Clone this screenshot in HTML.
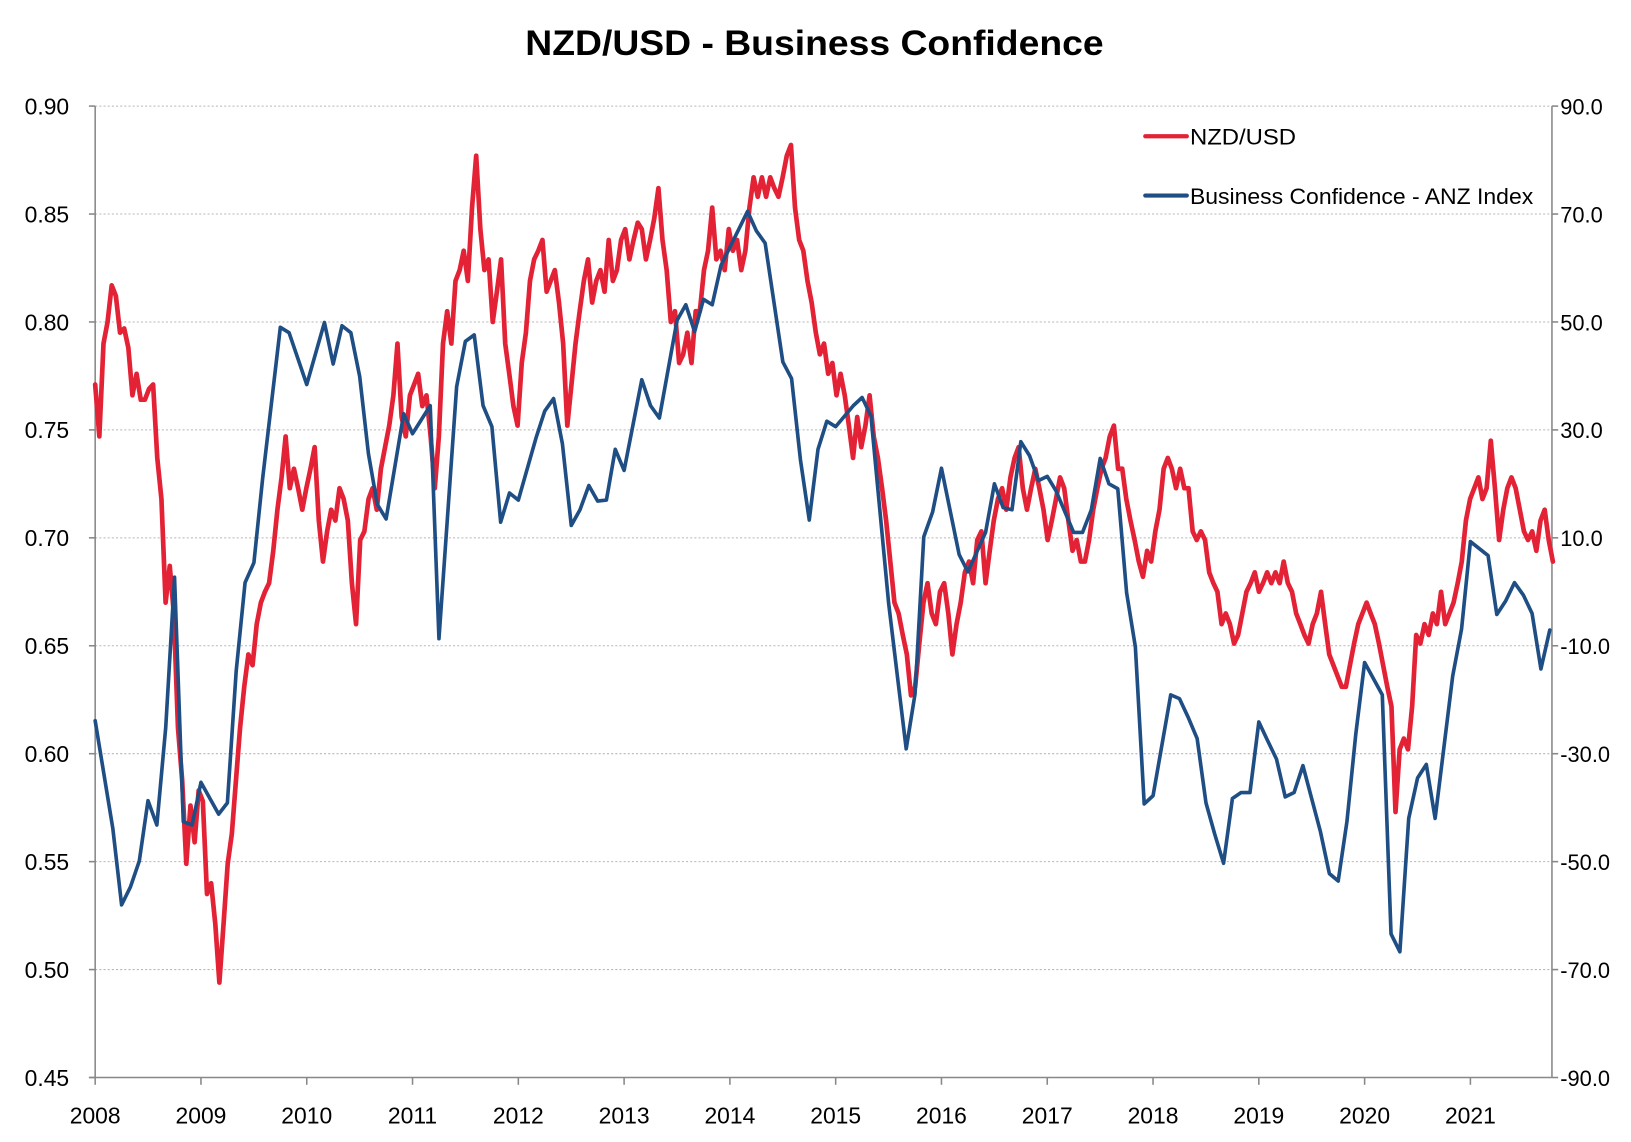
<!DOCTYPE html>
<html><head><meta charset="utf-8"><style>
html,body{margin:0;padding:0;background:#fff}
svg{display:block}
text{font-family:"Liberation Sans",Arial,sans-serif;fill:#000}
</style></head><body>
<svg id="chart" width="1631" height="1142" viewBox="0 0 1568 1098" preserveAspectRatio="none" xmlns="http://www.w3.org/2000/svg">
<text x="783" y="53" text-anchor="middle" font-size="34" font-weight="bold" textLength="556" lengthAdjust="spacingAndGlyphs">NZD/USD - Business Confidence</text>
<g id="grid"></g>
<g id="axes"></g>
<g id="series"></g>
<g>
<line x1="1101" y1="131" x2="1141" y2="131" stroke="#e32236" stroke-width="4" stroke-linecap="round"/>
<text x="1144" y="139" font-size="21" textLength="102" lengthAdjust="spacingAndGlyphs">NZD/USD</text>
<line x1="1101" y1="188" x2="1141" y2="188" stroke="#1f4e84" stroke-width="4" stroke-linecap="round"/>
<text x="1144" y="196" font-size="21" textLength="330" lengthAdjust="spacingAndGlyphs">Business Confidence - ANZ Index</text>
</g>
</svg>
<script>
const xTickLabels=["2008","2009","2010","2011","2012","2013","2014","2015","2016","2017","2018","2019","2020","2021"];
const leftTicks=[0.45,0.50,0.55,0.60,0.65,0.70,0.75,0.80,0.85,0.90];
const rightTicks=[-90,-70,-50,-30,-10,10,30,50,70,90];
const nzdStart=2008.0, nzdEnd=2021.78;
const nzdValues=[.771,.747,.790,.800,.817,.812,.795,.797,.788,.766,.776,.764,.764,.769,.771,.737,.718,.670,.687,.665,.612,.588,.549,.576,.559,.583,.578,.535,.540,.521,.494,.521,
.549,.563,.588,.612,.631,.646,.641,.660,.670,.675,.679,.694,.713,.728,.747,.723,.732,.723,.713,.723,.732,.742,.708,.689,.703,.713,.708,.723,.718,.708,.679,.660,.699,.703,.718,.723,.713,.732,.742,.752,.766,.790,.756,.747,.766,.771,.776,.761,.766,.747,.723,.747,.790,.805,.790,.819,.824,.833,.819,.853,.877,.843,.824,.829,.800,.814,.829,.790,.776,.761,.752,.781,.795,.819,.829,.833,.838,.814,.819,.824,.809,.790,.752,.771,.790,.805,.819,.829,.809,.819,.824,.814,.838,.819,.824,.838,.843,.829,.838,.846,.843,.829,.838,.848,.862,.838,.824,.800,.805,.781,.785,.795,.781,.805,.805,.824,.833,.853,.829,.833,.824,.843,.833,.838,.824,.833,.853,.867,.858,.867,.858,.867,.862,.858,.867,.877,.882,.853,.838,.833,.819,.809,.795,.785,.790,.776,.781,.766,.776,.766,.752,.737,.756,.742,.752,.766,.747,.737,.723,.708,.689,.670,.665,.655,.646,.627,.631,.651,.670,.679,.665,.660,.675,.679,.665,.646,.660,.670,.684,.689,.679,.699,.703,.679,.694,.708,.718,.723,.713,.728,.737,.742,.723,.713,.723,.732,.723,.713,.699,.708,.718,.728,.723,.708,.694,.699,.689,.689,.699,.713,.723,.732,.737,.747,.752,.732,.732,.718,.708,.699,.689,.682,.694,.689,.703,.713,.732,.737,.732,.723,.732,.723,.723,.703,.699,.703,.699,.684,.679,.675,.660,.665,.660,.651,.655,.665,.675,.679,.684,.675,.679,.684,.679,.684,.679,.689,.679,.675,.665,.660,.655,.651,.660,.665,.675,.660,.646,.641,.636,.631,.631,.641,.651,.660,.665,.670,.665,.660,.651,.641,.631,.622,.573,.602,.607,.602,.622,.655,.651,.660,.655,.665,.660,.675,.660,.665,.670,.679,.689,.708,.718,.723,.728,.718,.723,.745,.723,.699,.713,.723,.728,.723,.713,.703,.699,.703,.694,.708,.713,.699,.689];
const bcMonths=[0,2,3,4,5,6,7,8,9,10,11,12,14,15,16,17,18,19,21,22,24,26,27,28,29,30,31,32,33,35,36,38,39,41,42,43,44,45,46,47,48,50,51,52,53,54,55,56,57,58,59,60,62,63,64,66,67,68,69,70,71,74,75,76,78,79,80,81,82,83,84,86,87,88,90,91,92,93,94,95,96,98,99,101,102,103,104,105,106,107,108,109,110,111,112,113,114,115,116,117,118,119,120,122,123,124,125,126,127,128,129,130,131,132,133,134,135,136,137,139,140,141,142,143,144,146,147,148,149,150,151,152,154,155,156,158,159,160,161,162,163,164,165];
const bcValues=[-23.9,-43.9,-58.0,-54.7,-49.9,-38.7,-43.2,-25.2,2.7,-42.6,-43.2,-35.3,-41.2,-39.1,-14.6,1.7,5.4,21.0,49.0,48.0,38.4,49.9,42.2,49.3,48.0,39.9,25.6,16.2,13.5,33.0,29.3,34.5,-8.7,38.0,46.4,47.6,34.5,30.6,12.9,18.3,17.0,28.5,33.5,35.8,27.4,12.3,15.2,19.7,16.8,17.0,26.4,22.5,39.3,34.5,32.2,50.3,53.2,48.2,54.2,53.2,60.5,70.5,66.9,64.6,42.6,39.5,24.5,13.3,26.4,31.6,30.6,34.5,36.0,32.6,-2.1,-15.6,-29.1,-18.9,10.2,14.8,22.9,6.9,3.7,11.0,20.0,15.6,15.2,27.8,25.2,20.6,21.4,18.7,14.8,11.0,11.0,15.2,24.7,20.0,19.1,-0.2,-10.2,-39.3,-37.8,-19.1,-19.8,-23.3,-27.2,-39.1,-44.9,-50.3,-38.3,-37.2,-37.2,-24.1,-27.6,-31.0,-38.0,-37.2,-32.2,-44.5,-52.2,-53.6,-42.6,-26.4,-13.1,-19.1,-63.4,-66.7,-42.0,-34.5,-32.0,-42.0,-15.6,-6.9,9.3,6.7,-4.2,-1.7,1.7,-0.6,-4.0,-14.3,-7.1];

const NS="http://www.w3.org/2000/svg";
const L=91.5,R=1492,T=102,B=1036;
const xS=yr=>L+(yr-2008)*101.7;
const yL=v=>B-(v-0.45)/0.45*(B-T);
const yR=v=>B-(v+90)/180*(B-T);
function mk(tag,attrs,parent){const e=document.createElementNS(NS,tag);for(const k in attrs)e.setAttribute(k,attrs[k]);parent.appendChild(e);return e;}
const grid=document.getElementById('grid'),axes=document.getElementById('axes'),series=document.getElementById('series');
leftTicks.forEach((t,i)=>{
  const y=yL(t);
  if(i>0){const g=mk('line',{x1:L,x2:R,y1:y,y2:y,stroke:'#b8b8b8','stroke-width':1,'stroke-dasharray':'2,2'},grid);
  
  }
  const tk=mk('line',{x1:L-6,x2:L,y1:y,y2:y,stroke:'#888','stroke-width':1.5},axes);
  
  
  const tx=mk('text',{x:L-25,y:y+8,'text-anchor':'end','font-size':22},axes);
  tx.textContent=t.toFixed(2);
  
  
});
rightTicks.forEach(t=>{
  const y=yR(t);
  const tk=mk('line',{x1:R,x2:R+6,y1:y,y2:y,stroke:'#888','stroke-width':1.5},axes);
  
  
  const tx=mk('text',{x:R+8,y:y+8,'font-size':21},axes);
  tx.textContent=t.toFixed(1);
  
  
});
xTickLabels.forEach(s=>{
  const x=xS(+s);
  const tk=mk('line',{x1:x,x2:x,y1:B,y2:B+7,stroke:'#888','stroke-width':1.5},axes);
  
  
  const tx=mk('text',{x:x,y:B+44,'text-anchor':'middle','font-size':22},axes);
  tx.textContent=s;
  
  
});
const la=mk('line',{x1:L,x2:L,y1:T,y2:B,stroke:'#888','stroke-width':1.5},axes);


const ra=mk('line',{x1:R,x2:R,y1:T,y2:B,stroke:'#888','stroke-width':1.5},axes);


const ba=mk('line',{x1:L-6,x2:R,y1:B,y2:B,stroke:'#888','stroke-width':1.5},axes);



const n=nzdValues.length;
const rp=nzdValues.map((v,i)=>{const yr=nzdStart+(nzdEnd-nzdStart)*i/(n-1);return xS(yr).toFixed(1)+','+yL(v).toFixed(1);});
const red=mk('polyline',{points:rp.join(' '),fill:'none',stroke:'#e32236','stroke-width':4.5,'stroke-linejoin':'round','stroke-linecap':'round'},series);


const bp=bcValues.map((v,i)=>xS(2008+bcMonths[i]/12).toFixed(1)+','+yR(v).toFixed(1));
const blue=mk('polyline',{points:bp.join(' '),fill:'none',stroke:'#1f4e84','stroke-width':3.5,'stroke-linejoin':'round','stroke-linecap':'round'},series);


</script>
</body></html>
